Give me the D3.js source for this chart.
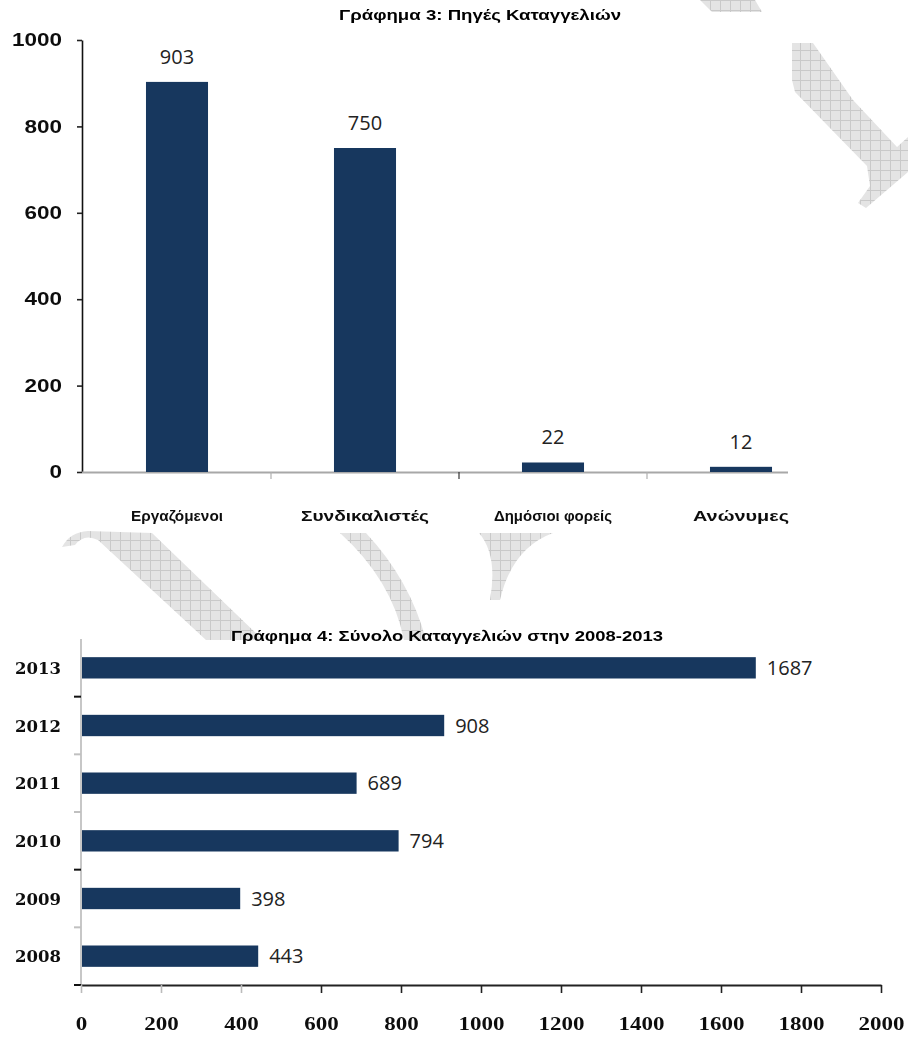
<!DOCTYPE html>
<html>
<head>
<meta charset="utf-8">
<script src="https://cdn.jsdelivr.net/npm/d3@7/dist/d3.min.js"></script>
<style>
  html, body { margin: 0; padding: 0; background: #ffffff; }
  svg { display: block; }
</style>
</head>
<body>
<svg id="chart" width="908" height="1037"></svg>
<script>
// ---- Data ----
const sourceTitle = "Γράφημα 3: Πηγές Καταγγελιών";
const sourceCategories = ["Εργαζόμενοι", "Συνδικαλιστές", "Δημόσιοι φορείς", "Ανώνυμες"];
const sourceValues = [903, 750, 22, 12];
const sourceTicks = [0, 200, 400, 600, 800, 1000];

const yearTitle = "Γράφημα 4: Σύνολο Καταγγελιών στην 2008-2013";
const years = ["2013", "2012", "2011", "2010", "2009", "2008"];
const yearValues = [1687, 908, 689, 794, 398, 443];
const yearTicks = [0, 200, 400, 600, 800, 1000, 1200, 1400, 1600, 1800, 2000];

const barColor = "#17375e";

const svg = d3.select("#chart");
const defs = svg.append("defs");

// soft blur used on the smeared axis text
defs.append("filter").attr("id", "soft")
  .attr("x", "-10%").attr("y", "-30%").attr("width", "120%").attr("height", "160%")
  .append("feGaussianBlur").attr("stdDeviation", 0.7);

// cross-hatched fill for the background watermark
const pat = defs.append("pattern").attr("id", "hatch")
  .attr("patternUnits", "userSpaceOnUse").attr("width", 10).attr("height", 10);
pat.append("rect").attr("width", 10).attr("height", 10).attr("fill", "#e4e4e4");
pat.append("path").attr("d", "M0,0.5H10M0.5,0V10").attr("stroke", "#c9c9c9").attr("stroke-width", 1);

// ---- Watermark strokes ----
const wm = svg.append("g").attr("fill", "url(#hatch)");
const wmShapes = [
  "M700,0 L755,0 L762,12 L712,12 Z",
  "M792,43 L813,43 L853,100 L897,147 L908,137 L908,172 L866,208 L858,203 L870,186 L867,166 L828,126 L795,92 L792,80 Z",
  "M62,547 Q70,532 88,531 L152,533 L263,640 L206,640 L98,540 Q84,533 75,545 Z",
  "M340,533 L366,533 Q410,580 426,640 L404,640 Q392,580 340,533 Z",
  "M479,533 L553,533 Q512,548 500,600 L490,600 Q498,555 479,533 Z"
];
wm.selectAll("path").data(wmShapes).join("path").attr("d", d => d);

// ================= Chart 1: vertical bars =================
const upper = { x0: 83, y0: 40, y1: 472 };
const x1 = d3.scaleBand().domain(sourceCategories).range([83, 835]).paddingInner(0.67).paddingOuter(0.335);
const y1 = d3.scaleLinear().domain([0, 1000]).range([upper.y1, upper.y0]);

svg.append("text")
  .attr("x", 480).attr("y", 20).attr("text-anchor", "middle")
  .attr("font-family", "Liberation Sans, Arial, sans-serif").attr("font-weight", "bold")
  .attr("font-size", 14).attr("textLength", 282).attr("lengthAdjust", "spacingAndGlyphs")
  .attr("filter", "url(#soft)").text(sourceTitle);

// y axis
const yAxis1 = svg.append("g").attr("transform", `translate(${upper.x0 - 1},0)`)
  .call(d3.axisLeft(y1).tickValues(sourceTicks).tickSize(5).tickSizeOuter(0).tickFormat(d3.format("d")));
yAxis1.select(".domain").attr("stroke", "#111").attr("stroke-width", 1.6);
yAxis1.selectAll(".tick line").attr("stroke", "#222").attr("stroke-width", 1.6);
yAxis1.selectAll(".tick text")
  .attr("x", -20)
  .attr("font-family", "Liberation Sans, Arial, sans-serif").attr("font-weight", "bold")
  .attr("font-size", 18).attr("fill", "#111")
  .attr("textLength", d => String(d).length * 12.5).attr("lengthAdjust", "spacingAndGlyphs")
  .attr("filter", "url(#soft)");

// x axis line and category separators
svg.append("line").attr("x1", 82).attr("x2", 788).attr("y1", upper.y1 + 0.5).attr("y2", upper.y1 + 0.5)
  .attr("stroke", "#a8a8a8").attr("stroke-width", 2);
const sepPositions = sourceCategories.slice(1).map(c => x1(c) - x1.step() * x1.paddingInner() / 2);
svg.selectAll(".sep").data(sepPositions).join("line").attr("class", "sep")
  .attr("x1", d => d).attr("x2", d => d).attr("y1", upper.y1).attr("y2", upper.y1 + 7)
  .attr("stroke", (d, i) => i === 1 ? "#333" : "#b0b0b0").attr("stroke-width", 1.2);

svg.selectAll(".bar1").data(sourceValues).join("rect").attr("class", "bar1")
  .attr("x", (d, i) => x1(sourceCategories[i]))
  .attr("width", x1.bandwidth())
  .attr("y", d => y1(d))
  .attr("height", d => y1(0) - y1(d))
  .attr("fill", barColor);

svg.selectAll(".val1").data(sourceValues).join("text").attr("class", "val1")
  .attr("x", (d, i) => x1(sourceCategories[i]) + x1.bandwidth() / 2)
  .attr("y", d => y1(d) - 18)
  .attr("text-anchor", "middle")
  .attr("font-family", "Open Sans, Liberation Sans, sans-serif").attr("font-size", 20)
  .attr("fill", "#222").text(d => d);

const catWidths = [92, 128, 118, 96];
svg.selectAll(".cat1").data(sourceCategories).join("text").attr("class", "cat1")
  .attr("x", d => x1(d) + x1.bandwidth() / 2)
  .attr("y", 521).attr("text-anchor", "middle")
  .attr("font-family", "Liberation Sans, Arial, sans-serif").attr("font-weight", "bold")
  .attr("font-size", 15).attr("fill", "#111")
  .attr("textLength", (d, i) => catWidths[i]).attr("lengthAdjust", "spacingAndGlyphs")
  .attr("filter", "url(#soft)").text(d => d);

// ================= Chart 2: horizontal bars =================
const lower = { x0: 81, x1: 881, y0: 639, y1: 985 };
const x2 = d3.scaleLinear().domain([0, 2000]).range([lower.x0, lower.x1]);
const y2 = d3.scaleBand().domain(years).range([lower.y0, lower.y1]).paddingInner(0.63).paddingOuter(0.315);

svg.append("text")
  .attr("x", 447).attr("y", 641).attr("text-anchor", "middle")
  .attr("font-family", "Liberation Sans, Arial, sans-serif").attr("font-weight", "bold")
  .attr("font-size", 14).attr("textLength", 432).attr("lengthAdjust", "spacingAndGlyphs")
  .attr("filter", "url(#soft)").text(yearTitle);

// y axis (years)
svg.append("line").attr("x1", lower.x0).attr("x2", lower.x0).attr("y1", lower.y0).attr("y2", lower.y1)
  .attr("stroke", "#b5b5b5").attr("stroke-width", 1.5);
const yearSeps = years.slice(1).map(c => y2(c) - y2.step() * y2.paddingInner() / 2).concat([lower.y1]);
svg.selectAll(".ysep").data(yearSeps).join("line").attr("class", "ysep")
  .attr("x1", lower.x0 - 7).attr("x2", lower.x0).attr("y1", d => d).attr("y2", d => d)
  .attr("stroke", (d, i) => (i === 0 || i === 3 || i === 5) ? "#111" : "#c0c0c0").attr("stroke-width", 2);

svg.selectAll(".year").data(years).join("text").attr("class", "year")
  .attr("x", 61).attr("y", d => y2(d) + y2.bandwidth() / 2)
  .attr("dy", "0.36em").attr("text-anchor", "end")
  .attr("font-family", "DejaVu Serif, Liberation Serif, serif").attr("font-weight", "bold")
  .attr("font-size", 17).attr("fill", "#111")
  .attr("textLength", 46).attr("lengthAdjust", "spacingAndGlyphs")
  .attr("filter", "url(#soft)").text(d => d);

// x axis
const xAxis2 = svg.append("g").attr("transform", `translate(0,${lower.y1})`)
  .call(d3.axisBottom(x2).tickValues(yearTicks).tickSize(8).tickSizeOuter(0).tickPadding(24).tickFormat(d3.format("d")));
xAxis2.select(".domain").attr("stroke", "#222").attr("stroke-width", 2);
xAxis2.selectAll(".tick line").attr("stroke", (d, i) => i < 3 ? "#bbb" : "#222").attr("stroke-width", 1.6);
xAxis2.selectAll(".tick text")
  .attr("font-family", "Liberation Serif, DejaVu Serif, serif")
  .attr("font-weight", "bold").attr("font-size", 18).attr("fill", "#111")
  .attr("textLength", d => String(d).length * 11.5).attr("lengthAdjust", "spacingAndGlyphs")
  .attr("filter", "url(#soft)");

svg.selectAll(".bar2").data(yearValues).join("rect").attr("class", "bar2")
  .attr("x", x2(0) + 1)
  .attr("y", (d, i) => y2(years[i]))
  .attr("width", d => x2(d) - x2(0) - 1)
  .attr("height", y2.bandwidth())
  .attr("fill", barColor);

svg.selectAll(".val2").data(yearValues).join("text").attr("class", "val2")
  .attr("x", d => x2(d) + 11)
  .attr("y", (d, i) => y2(years[i]) + y2.bandwidth() / 2)
  .attr("dy", "0.36em")
  .attr("font-family", "Open Sans, Liberation Sans, sans-serif").attr("font-size", 20)
  .attr("fill", "#222").text(d => d);
</script>
</body>
</html>
